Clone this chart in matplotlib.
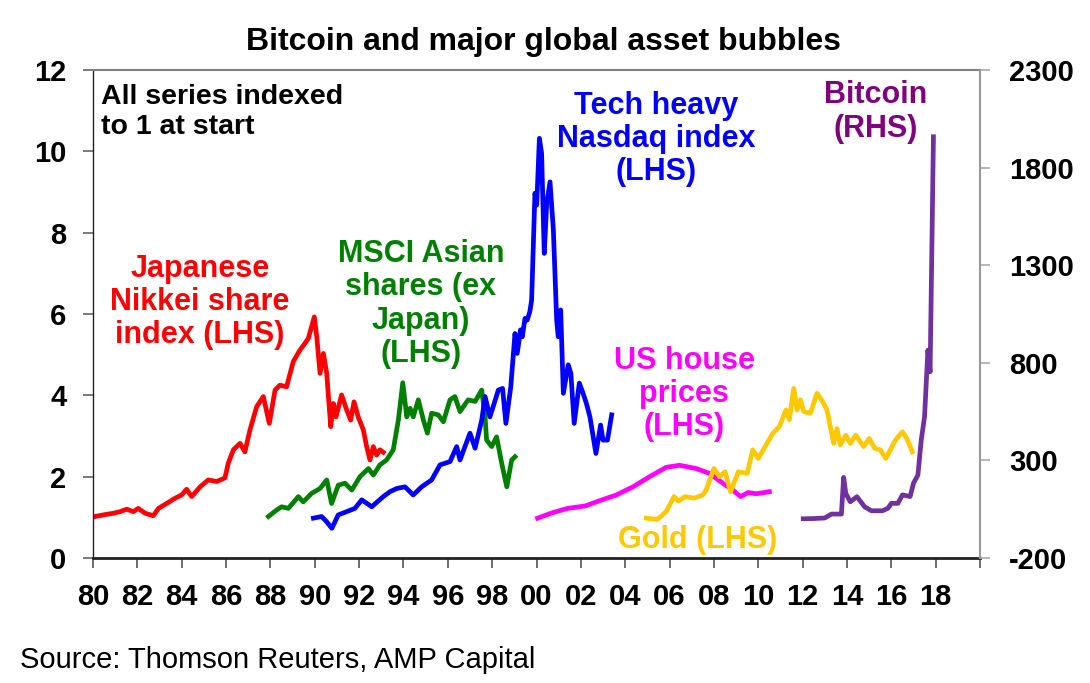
import numpy as np
import matplotlib.pyplot as plt

plt.rcParams['font.family'] = ['Liberation Sans', 'DejaVu Sans']
plt.rcParams['axes.unicode_minus'] = False

# Series (decimal years, index values)
nikkei_x = [1980.09, 1980.46, 1980.92, 1981.22, 1981.52, 1981.82, 1982.04, 1982.35, 1982.72, 1982.95,
            1983.32, 1983.7, 1984.0, 1984.22, 1984.45, 1984.83, 1985.2, 1985.58, 1985.95, 1986.1,
            1986.33, 1986.63, 1986.85, 1987.08, 1987.38, 1987.68, 1987.95, 1988.21, 1988.43, 1988.73,
            1989.03, 1989.33, 1989.56, 1989.71, 1989.98, 1990.09, 1990.24, 1990.39, 1990.54, 1990.72,
            1990.84, 1990.96, 1991.21, 1991.44, 1991.62, 1991.77, 1991.96, 1992.19, 1992.34, 1992.49,
            1992.64, 1992.79, 1992.94, 1993.09]
nikkei_y = [1.02, 1.06, 1.10, 1.14, 1.20, 1.14, 1.22, 1.10, 1.04, 1.22,
            1.34, 1.47, 1.55, 1.69, 1.51, 1.75, 1.92, 1.88, 1.97, 2.33,
            2.66, 2.82, 2.61, 3.15, 3.72, 3.97, 3.31, 4.13, 4.25, 4.21,
            4.83, 5.11, 5.28, 5.40, 5.93, 5.44, 4.54, 5.03, 4.54, 3.23,
            3.80, 3.47, 4.01, 3.64, 3.39, 3.84, 3.47, 3.15, 2.74, 2.41,
            2.74, 2.53, 2.66, 2.60]

msci_x = [1987.91, 1988.28, 1988.51, 1988.81, 1989.26, 1989.48, 1989.86, 1990.24, 1990.54, 1990.76,
          1991.06, 1991.36, 1991.67, 1992.04, 1992.42, 1992.64, 1992.94, 1993.24, 1993.54, 1993.77,
          1993.97, 1994.15, 1994.3, 1994.44, 1994.67, 1994.9, 1995.08, 1995.27, 1995.57, 1995.8,
          1996.1, 1996.32, 1996.55, 1996.92, 1997.23, 1997.53, 1997.68, 1997.75, 1997.98, 1998.2,
          1998.43, 1998.66, 1998.88, 1999.03]
msci_y = [1.02, 1.18, 1.26, 1.22, 1.51, 1.38, 1.59, 1.71, 1.92, 1.34,
          1.79, 1.84, 1.67, 2.00, 2.20, 2.04, 2.29, 2.41, 2.66, 3.39,
          4.31, 3.47, 3.68, 3.47, 3.89, 3.39, 3.07, 3.56, 3.52, 3.35,
          3.89, 3.97, 3.60, 3.89, 3.85, 4.13, 3.47, 2.90, 2.74, 2.98,
          2.33, 1.75, 2.41, 2.49]

nasdaq_x = [1989.94, 1990.31, 1990.54, 1990.77, 1991.06, 1991.44, 1991.81, 1992.12, 1992.57, 1993.09,
            1993.39, 1993.7, 1994.07, 1994.44, 1994.82, 1995.27, 1995.65, 1996.1, 1996.4, 1996.55,
            1997.0, 1997.23, 1997.53, 1997.68, 1997.9, 1998.28, 1998.47, 1998.62, 1998.84, 1999.03,
            1999.13, 1999.28, 1999.36, 1999.48, 1999.58, 1999.7, 1999.78, 1999.93, 2000.01, 2000.13,
            2000.23, 2000.35, 2000.46, 2000.61, 2000.76, 2000.91, 2000.98, 2001.09, 2001.21, 2001.43,
            2001.55, 2001.7, 2001.93, 2002.1, 2002.25, 2002.41, 2002.55, 2002.68, 2002.89, 2003.0,
            2003.2, 2003.39]
nasdaq_y = [0.98, 1.02, 0.89, 0.73, 1.06, 1.14, 1.22, 1.43, 1.26, 1.51,
            1.63, 1.71, 1.75, 1.55, 1.75, 1.92, 2.29, 2.37, 2.74, 2.41,
            3.07, 2.70, 3.39, 3.97, 3.47, 4.13, 4.17, 3.31, 4.21, 5.52,
            5.03, 5.61, 5.44, 5.89, 5.85, 6.06, 6.34, 8.97, 8.68, 10.32,
            9.95, 7.49, 8.72, 9.25, 8.07, 5.85, 5.44, 6.10, 4.05, 4.75,
            4.54, 3.31, 4.30, 4.05, 3.80, 3.47, 3.00, 2.57, 3.27, 2.90,
            2.90, 3.52]

house_x = [2000.05, 2000.7, 2001.4, 2002.2, 2002.85, 2003.6, 2004.35, 2005.1, 2005.85, 2006.45,
           2007.2, 2007.8, 2008.4, 2008.85, 2009.2, 2009.55, 2009.9, 2010.5]
house_y = [0.98, 1.11, 1.22, 1.28, 1.41, 1.55, 1.75, 2.00, 2.23, 2.28,
           2.20, 2.08, 1.84, 1.67, 1.51, 1.61, 1.58, 1.63]

gold_x = [2004.95, 2005.45, 2005.85, 2006.2, 2006.4, 2006.7, 2007.1, 2007.5, 2007.65, 2008.0,
          2008.25, 2008.5, 2008.75, 2009.1, 2009.5, 2009.75, 2010.0, 2010.35, 2010.65, 2010.95,
          2011.25, 2011.4, 2011.6, 2011.75, 2011.9, 2012.05, 2012.35, 2012.65, 2012.9, 2013.1,
          2013.4, 2013.55, 2013.7, 2013.95, 2014.15, 2014.4, 2014.75, 2015.0, 2015.25, 2015.5,
          2015.75, 2016.0, 2016.1, 2016.3, 2016.5, 2016.7, 2016.95]
gold_y = [0.98, 0.95, 1.14, 1.51, 1.40, 1.51, 1.47, 1.55, 1.67, 2.20,
          2.00, 2.12, 1.63, 2.12, 2.08, 2.66, 2.45, 2.78, 3.06, 3.23,
          3.64, 3.40, 4.17, 3.64, 3.89, 3.60, 3.56, 4.05, 3.85, 3.64,
          2.82, 3.18, 2.78, 3.02, 2.82, 3.02, 2.74, 2.94, 2.70, 2.66,
          2.45, 2.70, 2.82, 2.98, 3.10, 2.94, 2.61]

btc_x = [2012.03, 2012.5, 2013.0, 2013.3, 2013.75, 2013.85, 2013.95, 2014.15, 2014.45, 2014.8,
         2015.1, 2015.6, 2015.85, 2016.0, 2016.3, 2016.5, 2016.85, 2017.0, 2017.2, 2017.35,
         2017.5, 2017.65, 2017.75, 2017.9]
btc_y = [1, 2, 5, 25, 25, 213, 130, 88, 114, 62,
         42, 42, 55, 80, 80, 123, 115, 183, 225, 404,
         524, 865, 754, 1958]

year_ticks = list(range(1980, 2021, 2))
year_labels = ['%02d' % (y % 100) for y in year_ticks[:-1]] + ['']

W, H = 1090, 683
fig = plt.figure(figsize=(W / 100, H / 100), dpi=100)
ax = fig.add_axes([93 / W, 1 - 558 / H, 887 / W, 488 / H])
ax2 = ax.twinx()

lw = 3.4
ax.plot(nikkei_x, nikkei_y, color='#FF0000', lw=lw, solid_joinstyle='round')
ax.plot(msci_x, msci_y, color='#008000', lw=lw, solid_joinstyle='round')
ax.plot(nasdaq_x, nasdaq_y, color='#0000FF', lw=lw, solid_joinstyle='round')
ax.plot(house_x, house_y, color='#FF00FF', lw=lw, solid_joinstyle='round')
ax.plot(gold_x, gold_y, color='#FFC800', lw=lw, solid_joinstyle='round')
ax2.plot(btc_x, btc_y, color='#7030A0', lw=lw, solid_joinstyle='round')

ax.set_xlim(1980, 2020)
ax.set_ylim(0, 12)
ax2.set_ylim(-200, 2300)
ax.set_xticks(year_ticks)
ax.set_xticklabels(year_labels)
ax.set_yticks(range(0, 13, 2))
ax2.set_yticks(range(-200, 2301, 500))

for a in (ax, ax2):
    for s in a.spines.values():
        s.set_visible(False)
ax.spines['left'].set_visible(True)
ax.spines['left'].set_color('#222222')
ax.spines['left'].set_linewidth(1.0)
ax.spines['bottom'].set_visible(True)
ax.spines['bottom'].set_color('#222222')
ax.spines['bottom'].set_linewidth(2.0)
ax.spines['top'].set_visible(True)
ax.spines['top'].set_color('#808080')
ax.spines['top'].set_linewidth(1.5)
ax2.spines['right'].set_visible(True)
ax2.spines['right'].set_color('#999999')
ax2.spines['right'].set_linewidth(1.5)

ax.tick_params(axis='x', direction='out', length=7, width=1.2, color='#555555',
               pad=11, labelsize=21)
ax.tick_params(axis='y', direction='out', length=7, width=1.2, color='#666666',
               pad=12, labelsize=21)
ax2.tick_params(axis='y', direction='out', length=7, width=1.2, color='#aaaaaa',
                pad=14, labelsize=21)
for lab in ax.get_xticklabels() + ax.get_yticklabels() + ax2.get_yticklabels():
    lab.set_fontweight('bold')

def px(x, y):
    return x / W, 1 - y / H

fig.text(*px(544, 42), 'Bitcoin and major global asset bubbles', ha='center', va='center',
         fontsize=23, fontweight='bold')
fig.text(*px(20, 668), 'Source: Thomson Reuters, AMP Capital', ha='left', va='baseline',
         fontsize=21)
fig.text(*px(101, 112), 'All series indexed\nto 1 at start', ha='left', va='center',
         fontsize=20.5, fontweight='bold', linespacing=1.22)

labels = [
    (200, 302, 'Japanese\nNikkei share\nindex (LHS)', '#FF0000'),
    (421, 304, 'MSCI Asian\nshares (ex\nJapan)\n(LHS)', '#008000'),
    (656, 139, 'Tech heavy\nNasdaq index\n(LHS)', '#0000FF'),
    (684, 394, 'US house\nprices\n(LHS)', '#FF00FF'),
    (698, 540, 'Gold (LHS)', '#FFC800'),
    (876, 112, 'Bitcoin\n(RHS)', '#800080'),
]
for x, y, t, c in labels:
    fig.text(*px(x, y), t, ha='center', va='center', fontsize=22, fontweight='bold',
             color=c, linespacing=1.15, multialignment='center')

plt.savefig('out.png', dpi=100)
